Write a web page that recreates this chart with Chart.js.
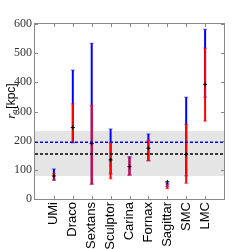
<!DOCTYPE html>
<html>
<head>
<meta charset="utf-8">
<script src="https://cdn.jsdelivr.net/npm/chart.js@4.4.0/dist/chart.umd.min.js"></script>
<style>
    body { margin: 0; background: #fff; }
</style>
</head>
<body>
<canvas id="grafico" width="249" height="249"></canvas>
<script>
const galaxies = ['UMi', 'Draco', 'Sextans', 'Sculptor', 'Carina', 'Fornax', 'Sagittar', 'SMC', 'LMC'];
const blueLow = [64, 193, 51, 86, 83, 131, 43, 79, 349];
const blueHigh = [103, 442, 534, 240, 145, 223, 55, 349, 582];
const redLow = [66, 193, 51, 69, 81, 131, 35, 54, 267];
const redHigh = [88, 326, 321, 193, 141, 202, 50, 256, 517];
const bestFit = [79, 245, 190, 134, 111, 174, 59, 153, 393];
const band = [79, 233];
const blueLevel = 195;
const blackLevel = 154;
const yTicks = [0, 100, 200, 300, 400, 500, 600];

const frameColor = '#888888';

// banda cinza + barras de erro, desenhadas antes dos datasets
const errorBars = {
    id: 'errorBars',
    beforeDatasetsDraw(chart) {
        const ctx = chart.ctx;
        const x = chart.scales.x;
        const y = chart.scales.y;
        const area = chart.chartArea;

        ctx.save();
        ctx.fillStyle = '#e5e5e5';
        const top = y.getPixelForValue(band[1]);
        const bot = y.getPixelForValue(band[0]);
        ctx.fillRect(area.left, top, area.right - area.left, bot - top);

        function bar(i, lo, hi, color) {
            const px = x.getPixelForValue(i + 1);
            const p1 = y.getPixelForValue(lo);
            const p2 = y.getPixelForValue(hi);
            ctx.strokeStyle = color;
            ctx.lineWidth = 2;
            ctx.beginPath();
            ctx.moveTo(px, p1);
            ctx.lineTo(px, p2);
            ctx.stroke();
            ctx.lineWidth = 1;
            ctx.globalAlpha = 0.6;
            ctx.beginPath();
            ctx.moveTo(px - 2, p1);
            ctx.lineTo(px + 2, p1);
            ctx.moveTo(px - 2, p2);
            ctx.lineTo(px + 2, p2);
            ctx.stroke();
            ctx.globalAlpha = 1;
        }

        for (let i = 0; i < galaxies.length; i++) {
            bar(i, blueLow[i], blueHigh[i], '#0000ff');
            bar(i, redLow[i], redHigh[i], '#ff0000');
        }
        ctx.restore();
    },
    afterDraw(chart) {
        const ctx = chart.ctx;
        const x = chart.scales.x;
        const y = chart.scales.y;
        const a = chart.chartArea;

        ctx.save();
        ctx.strokeStyle = frameColor;
        ctx.lineWidth = 1;
        ctx.strokeRect(Math.round(a.left) - 0.5, Math.round(a.top) - 0.5,
            Math.round(a.right - a.left) + 1, Math.round(a.bottom - a.top) + 1);

        // ticks para dentro
        ctx.beginPath();
        for (let i = 0; i < galaxies.length; i++) {
            const px = Math.round(x.getPixelForValue(i + 1)) + 0.5;
            ctx.moveTo(px, a.top);
            ctx.lineTo(px, a.top + 3);
            ctx.moveTo(px, a.bottom);
            ctx.lineTo(px, a.bottom - 3);
        }
        yTicks.forEach(v => {
            const py = Math.round(y.getPixelForValue(v)) + 0.5;
            ctx.moveTo(a.left, py);
            ctx.lineTo(a.left + 3, py);
            ctx.moveTo(a.right, py);
            ctx.lineTo(a.right - 3, py);
        });
        ctx.stroke();

        // titulo do eixo y: r_a[kpc]
        ctx.translate(11, 101);
        ctx.rotate(-Math.PI / 2);
        ctx.fillStyle = '#000';
        ctx.textBaseline = 'alphabetic';
        const f1 = 'italic 13px "Liberation Serif"';
        const f2 = 'italic 8px "Liberation Serif"';
        const f3 = '12px "Liberation Sans"';
        ctx.font = f1;
        const w1 = ctx.measureText('r').width;
        ctx.font = f2;
        const w2 = ctx.measureText('a').width;
        ctx.font = f3;
        const w3 = ctx.measureText('[kpc]').width;
        let sx = -(w1 + w2 + w3 + 1) / 2;
        ctx.font = f1;
        ctx.fillText('r', sx, 4);
        sx += w1;
        ctx.font = f2;
        ctx.fillText('a', sx, 6);
        sx += w2 + 1;
        ctx.font = f3;
        ctx.fillText('[kpc]', sx, 4);
        ctx.restore();
    }
};

new Chart(document.getElementById('grafico').getContext('2d'), {
    type: 'scatter',
    data: {
        datasets: [
            {
                type: 'line',
                data: [{ x: 0, y: blueLevel }, { x: 10, y: blueLevel }],
                borderColor: '#0000ff',
                borderWidth: 1.5,
                borderDash: [3, 2],
                pointRadius: 0
            },
            {
                type: 'line',
                data: [{ x: 0, y: blackLevel }, { x: 10, y: blackLevel }],
                borderColor: '#000000',
                borderWidth: 1.5,
                borderDash: [3, 2],
                pointRadius: 0
            },
            {
                data: bestFit.map((v, i) => ({ x: i + 1, y: v })),
                pointStyle: 'cross',
                pointRadius: 2,
                borderColor: '#000',
                borderWidth: 1,
                backgroundColor: '#000'
            }
        ]
    },
    options: {
        responsive: false,
        animation: false,
        devicePixelRatio: 1,
        layout: { padding: { top: 24, right: 25, left: 0, bottom: 0 } },
        plugins: {
            legend: { display: false },
            tooltip: { enabled: false }
        },
        scales: {
            x: {
                type: 'linear',
                min: 0,
                max: 10,
                afterBuildTicks: (scale) => {
                    scale.ticks = galaxies.map((g, i) => ({ value: i + 1 }));
                },
                afterFit: (scale) => { scale.height = 50; },
                grid: { display: false, drawTicks: false },
                border: { display: false },
                ticks: {
                    autoSkip: false,
                    minRotation: 90,
                    maxRotation: 90,
                    padding: 3,
                    color: '#000',
                    font: { family: '"Liberation Sans", Arial, sans-serif', size: 13 },
                    callback: (v) => galaxies[v - 1]
                }
            },
            y: {
                min: 0,
                max: 600,
                afterFit: (scale) => { scale.width = 35; },
                grid: { display: false, drawTicks: false },
                border: { display: false },
                ticks: {
                    stepSize: 100,
                    padding: 3,
                    color: '#333',
                    font: { family: '"Liberation Serif", serif', size: 12 }
                }
            }
        }
    },
    plugins: [errorBars]
});
</script>
</body>
</html>
